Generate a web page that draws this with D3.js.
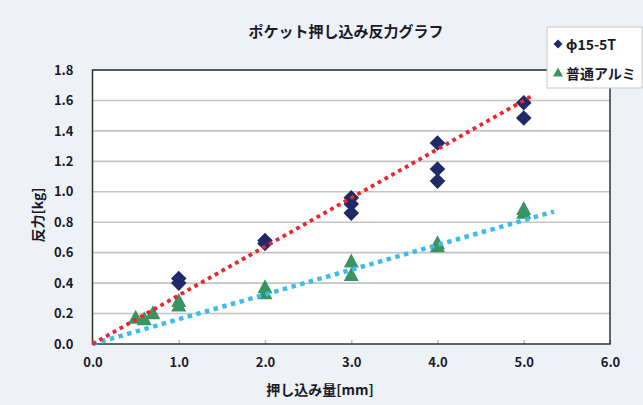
<!DOCTYPE html>
<html><head><meta charset="utf-8">
<script src="https://cdn.jsdelivr.net/npm/d3@7"></script>
<style>
html,body{margin:0;padding:0;background:#eef2f7;}
svg{display:block;}
text{font-family:"Noto Sans CJK JP","Noto Sans",sans-serif;fill:#1a1a2a;}
</style></head>
<body>
<svg id="chart" width="643" height="405"></svg>
<script>
// ---- data ----
const title = "ポケット押し込み反力グラフ";
const xTitle = "押し込み量[mm]";
const yTitle = "反力[kg]";
const seriesNames = ["ϕ15-5T", "普通アルミ"];
const xTicks = [0, 1, 2, 3, 4, 5, 6];
const yTicks = [0, 0.2, 0.4, 0.6, 0.8, 1.0, 1.2, 1.4, 1.6, 1.8];
const phiX = [1.0, 1.0, 2.0, 2.0, 3.0, 3.0, 3.0, 4.0, 4.0, 4.0, 5.0, 5.0];
const phiY = [0.43, 0.40, 0.68, 0.66, 0.96, 0.92, 0.86, 1.32, 1.15, 1.07, 1.585, 1.485];
const aluX = [0.5, 0.6, 0.7, 1.0, 1.0, 2.0, 2.0, 3.0, 3.0, 4.0, 4.0, 5.0, 5.0];
const aluY = [0.17, 0.16, 0.20, 0.28, 0.25, 0.37, 0.33, 0.54, 0.45, 0.66, 0.64, 0.885, 0.86];
const phiTrend = [[0, 0], [5.08, 1.625]];
const aluTrend = [[0, 0], [5.35, 0.87]];

// ---- layout ----
const svg = d3.select("#chart");
const L = 92.5, R = 610, T = 70, B = 344;
const x = d3.scaleLinear().domain([0, 6]).range([L, R]);
const y = d3.scaleLinear().domain([0, 1.8]).range([B, T]);

svg.append("rect").attr("x", L).attr("y", T).attr("width", R - L).attr("height", B - T).attr("fill", "#fff");

// gridlines
svg.append("g").selectAll("line").data(yTicks.slice(1)).join("line")
  .attr("x1", L).attr("x2", R).attr("y1", d => y(d)).attr("y2", d => y(d))
  .attr("stroke", "#c4c4c4").attr("stroke-width", 1.6);

// axes
const tickFont = '"Noto Sans CJK JP",sans-serif';
const xAxis = d3.axisBottom(x).tickValues(xTicks).tickFormat(d3.format(".1f")).tickSizeInner(-4).tickSizeOuter(0).tickPadding(14);
const gx = svg.append("g").attr("transform", `translate(0,${B})`).call(xAxis);
gx.select(".domain").remove();
gx.selectAll(".tick line").attr("stroke", "#bbb").attr("stroke-width", 1.5);
gx.selectAll(".tick text").attr("font-size", 13).attr("font-weight", 600).attr("fill", "#1a1a2a").attr("font-family", tickFont);

const yAxis = d3.axisLeft(y).tickValues(yTicks).tickFormat(d3.format(".1f")).tickSize(0).tickPadding(19);
const gy = svg.append("g").attr("transform", `translate(${L},0)`).call(yAxis);
gy.select(".domain").remove();
gy.selectAll(".tick text").attr("font-size", 13).attr("font-weight", 600).attr("fill", "#1a1a2a").attr("font-family", tickFont);

// border
svg.append("rect").attr("x", L).attr("y", T).attr("width", R - L).attr("height", B - T)
  .attr("fill", "none").attr("stroke", "#333").attr("stroke-width", 1.5);

// markers
const diamond = (s) => `M0,${-s}L${s},0L0,${s}L${-s},0Z`;
const triangle = (w, h) => `M0,${-h * 0.6}L${w / 2},${h * 0.4}L${-w / 2},${h * 0.4}Z`;
const phiPts = phiX.map((v, i) => [v, phiY[i]]);
const aluPts = aluX.map((v, i) => [v, aluY[i]]);

svg.append("g").selectAll("path").data(aluPts).join("path")
  .attr("d", triangle(15, 14)).attr("transform", d => `translate(${x(d[0])},${y(d[1])})`)
  .attr("fill", "#3a9462");
svg.append("g").selectAll("path").data(phiPts).join("path")
  .attr("d", diamond(7.8)).attr("transform", d => `translate(${x(d[0])},${y(d[1])})`)
  .attr("fill", "#1f2a66");

// trend lines
const line = d3.line().x(d => x(d[0])).y(d => y(d[1]));
svg.append("path").attr("d", line(aluTrend)).attr("fill", "none")
  .attr("stroke", "#3dbbea").attr("stroke-width", 4.5).attr("stroke-dasharray", "4.5,4.5");
svg.append("path").attr("d", line(phiTrend)).attr("fill", "none")
  .attr("stroke", "#e8262c").attr("stroke-width", 3.8).attr("stroke-dasharray", "3.8,4");

// titles
svg.append("text").attr("x", 346).attr("y", 37).attr("text-anchor", "middle")
  .attr("font-size", 15).attr("font-weight", "bold").text(title);
svg.append("text").attr("x", 320).attr("y", 395).attr("text-anchor", "middle")
  .attr("font-size", 14).attr("font-weight", "bold").text(xTitle);
svg.append("text").attr("transform", "translate(43,215) rotate(-90)").attr("text-anchor", "middle")
  .attr("font-size", 14).attr("font-weight", "bold").text(yTitle);

// legend
const lg = svg.append("g");
lg.append("rect").attr("x", 547).attr("y", 27).attr("width", 95).attr("height", 61)
  .attr("fill", "#fff").attr("stroke", "#c8c8c8").attr("stroke-width", 1);
lg.append("path").attr("d", diamond(4.5)).attr("transform", "translate(558,44)").attr("fill", "#1f2a66");
lg.append("path").attr("d", triangle(10, 9)).attr("transform", "translate(558,73)").attr("fill", "#3a9462");
lg.append("text").attr("x", 566).attr("y", 50).attr("font-size", 14).attr("font-weight", "bold").text(seriesNames[0]);
lg.append("text").attr("x", 566).attr("y", 78.5).attr("font-size", 14).attr("font-weight", "bold").text(seriesNames[1]);
</script>
</body></html>
